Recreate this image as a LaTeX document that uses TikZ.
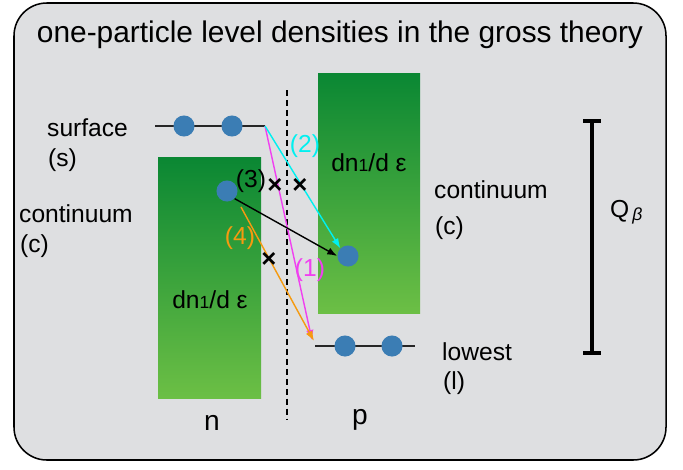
\documentclass[tikz,border=0pt]{standalone}
\usepackage{fontspec}
\setmainfont{Liberation Sans}
\usetikzlibrary{arrows.meta,positioning,calc}
\definecolor{Panel}{HTML}{DEDFE1}
\definecolor{GreenTop}{HTML}{0A8733}
\definecolor{GreenBot}{HTML}{6CBF45}
\definecolor{Ball}{HTML}{3B7DB4}
\definecolor{Cyan}{HTML}{00F0F0}
\definecolor{Pink}{HTML}{F040F0}
\definecolor{Orange}{HTML}{F59A10}
\tikzset{
  ball/.style={circle, fill=Ball, inner sep=0pt, minimum size=18pt},
  level/.style={line width=1.4pt, draw=black!85},
  trans/.style={-{Latex[length=3mm,width=2.2mm]}, line width=1.2pt},
  lbl/.style={font=\fontsize{21}{24}\selectfont, inner sep=0pt},
  cross/.style={font=\fontsize{22}{24}\selectfont\bfseries, inner sep=0pt},
}

\begin{document}
\begin{tikzpicture}[x=0.03cm,y=-0.03cm]
\path[use as bounding box] (0,0) rectangle (683,469);
\draw[fill=Panel,line width=1.3pt,rounded corners=28pt] (14,3) rectangle (666,460);
\node[font=\fontsize{25.5}{28}\selectfont] (title) at (340,35) {one-particle level densities in the gross theory};

% level densities
\shade[top color=GreenTop,bottom color=GreenBot] (158,157) rectangle (261,398);
\shade[top color=GreenTop,bottom color=GreenBot] (318,73) rectangle (420,313);
\node[lbl] (dnn) at (210,300) {dn{\fontsize{15}{17}\selectfont 1}/d ε};
\node[lbl] (dnp) at (369,163) {dn{\fontsize{15}{17}\selectfont 1}/d ε};
\draw[line width=1.8pt,dash pattern=on 5pt off 3.5pt] (287,90) -- (287,420);

% levels and particles
\draw[level] (155,126) coordinate (surfL) -- (265,126) coordinate (surfR);
\draw[level] (315,346) coordinate (lowL) -- (415,346) coordinate (lowR);
\node[ball] (s1) at (184,126) {};
\node[ball] (s2) at (232,126) {};
\node[ball] (l1) at (345,346) {};
\node[ball] (l2) at (392,346) {};
\node[ball] (cn) at (227,191) {};
\node[ball] (cp) at (348,256) {};

% transitions
\draw[trans,draw=Pink] (surfR) -- ($(lowL)+(-3,-6)$) coordinate (tip1);
\draw[trans,draw=Cyan] (surfR) -- (cp.north west);
\draw[trans,draw=black] (cn.south east) -- (cp.west);
\draw[trans,draw=Orange] (241,207) coordinate (orStart) -- ($(lowL)+(-1,-5)$);
\node[lbl,text=Pink] (n1) at (310,270) {(1)};
\node[lbl,text=Cyan] (n2) at (305,146) {(2)};
\node[lbl] (n3) at (251,181) {(3)};
\node[lbl,text=Orange] (n4) at (240,238) {(4)};
\node[cross] (x1) at (275,186) {×};
\node[cross] (x2) at (300,186) {×};
\node[cross] (x3) at (269,260) {×};

% labels
\node[lbl,anchor=west] (surf) at (47,128) {surface};
\node[lbl,anchor=west] (surfs) at (48,160) {(s)};
\node[lbl,anchor=west] (contn) at (19,214) {continuum};
\node[lbl,anchor=west] (contnc) at (20,246) {(c)};
\node[lbl,anchor=west] (contp) at (434,190) {continuum};
\node[lbl,anchor=west] (contpc) at (435,228) {(c)};
\node[lbl,anchor=west] (low) at (442,352) {lowest};
\node[lbl,anchor=west] (lowl) at (443,383) {(l)};
\node[font=\fontsize{24}{26}\selectfont] (nn) at (212,423) {n};
\node[font=\fontsize{24}{26}\selectfont] (pp) at (360,420) {p};

% Q value
\draw[line width=2.6pt] (592,121) coordinate (qtop) -- (592,353) coordinate (qbot);
\draw[line width=2.6pt] ($(qtop)+(-9,0)$) -- ($(qtop)+(9,0)$);
\draw[line width=2.6pt] ($(qbot)+(-9,0)$) -- ($(qbot)+(9,0)$);
\node[lbl,anchor=west] (qb) at (610,212) {Q\raisebox{-3pt}{\fontsize{15}{17}\selectfont\,\itshape β}};
\end{tikzpicture}
\end{document}
